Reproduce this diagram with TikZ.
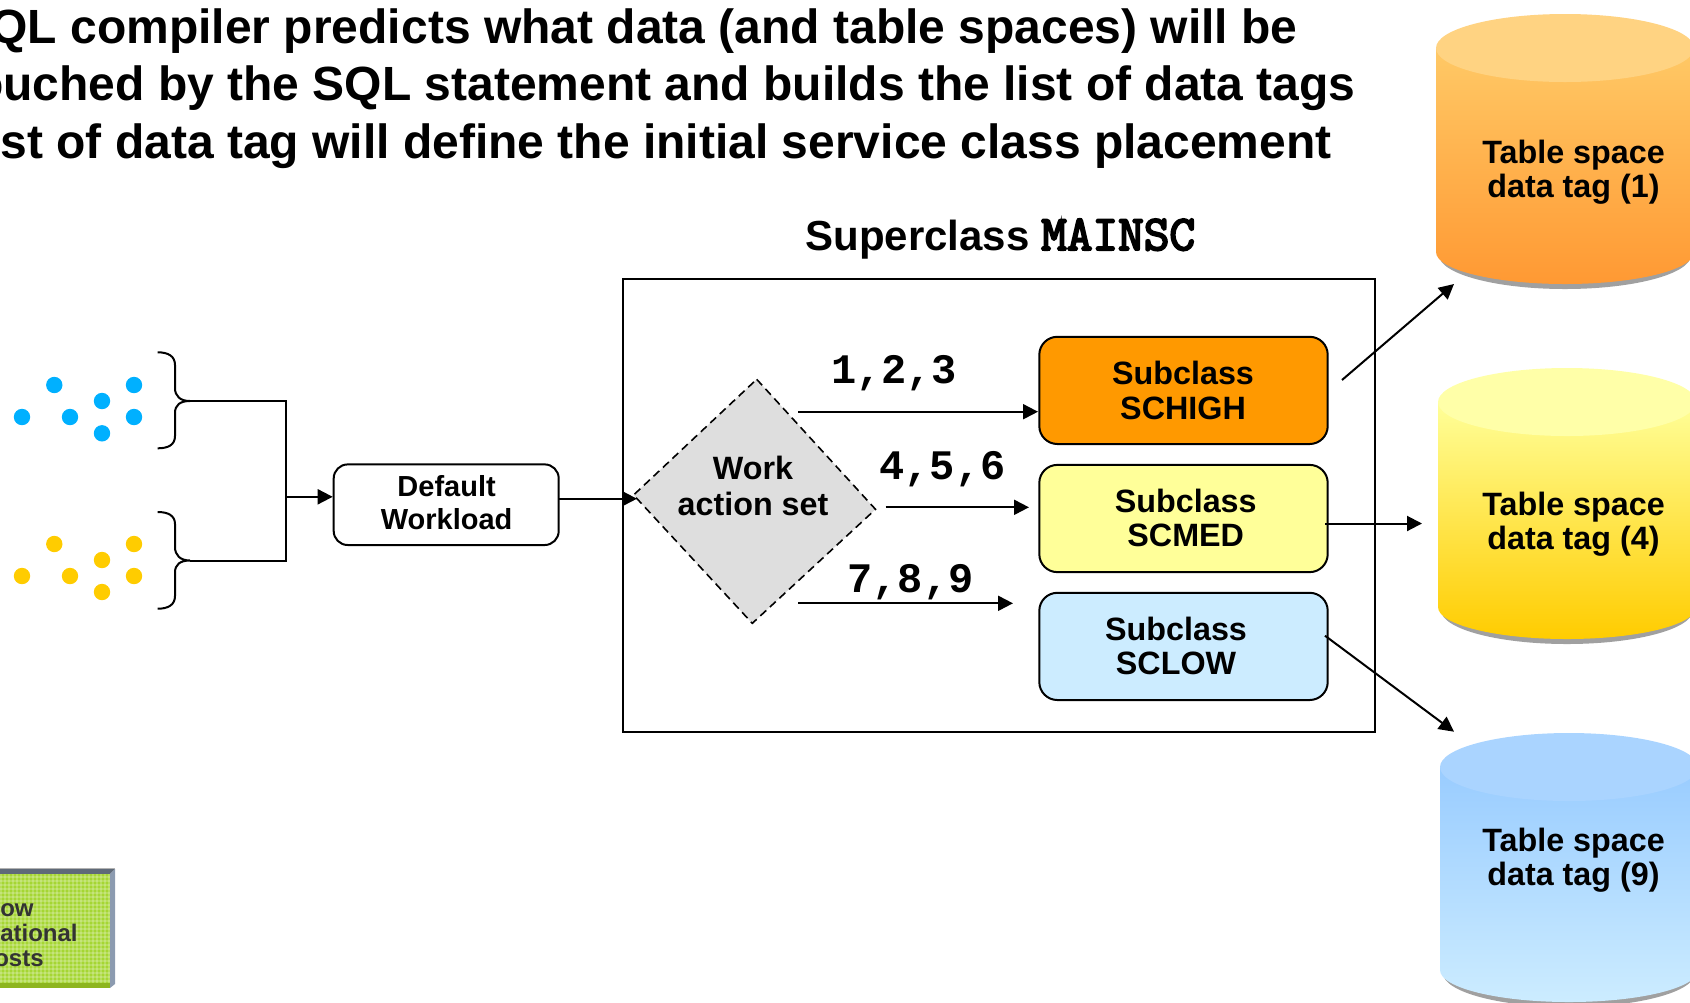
\documentclass[tikz,border=0pt]{standalone}
\usepackage{fontspec}
\setmainfont{Liberation Sans}
\newfontfamily\monof{Liberation Mono}
\newfontfamily\courf[FakeBold=4]{Latin Modern Mono}
\usetikzlibrary{arrows.meta}
\definecolor{dotblue}{HTML}{00B0FF}
\definecolor{dotyellow}{HTML}{FFCC00}
\definecolor{c1t}{HTML}{FFC966}\definecolor{c1b}{HTML}{FF9933}\definecolor{c1e}{HTML}{FFD382}
\definecolor{c2t}{HTML}{FFFF99}\definecolor{c2b}{HTML}{FFCC00}\definecolor{c2e}{HTML}{FFFFA8}
\definecolor{c3t}{HTML}{99CCFF}\definecolor{c3b}{HTML}{CCECFF}\definecolor{c3e}{HTML}{AAD4FF}
\definecolor{shad}{HTML}{A0A0A0}
\definecolor{gtop}{HTML}{5F6A78}\definecolor{gside}{HTML}{8C9BB0}
\definecolor{gfill}{HTML}{A5D633}\definecolor{gband}{HTML}{8DB51E}\definecolor{gtext}{HTML}{333333}
\definecolor{sbh}{HTML}{FF9900}\definecolor{sbm}{HTML}{FFFF99}\definecolor{sbl}{HTML}{CCECFF}
\tikzset{
  x=0.5pt,y=-0.5pt,
  conn/.style={line width=1pt,black},
  arr/.style={conn,-{Triangle[length=7.5pt,width=7.5pt]}},
  sub/.style={draw=black,line width=1pt,rounded corners=9pt,minimum width=144.2pt,minimum height=53.6pt,inner sep=0pt},
  lab/.style={font=\bfseries\fontsize{16.15}{17.2}\selectfont,align=center,anchor=base},
  nums/.style={font=\monof\bfseries\fontsize{21}{24}\selectfont,anchor=base},
  titl/.style={font=\bfseries\fontsize{24}{28}\selectfont,anchor=base east,inner sep=0pt},
  grn/.style={font=\bfseries\fontsize{12}{13}\selectfont,anchor=base east,text=gtext,inner sep=0pt},
  dot/.style={circle,inner sep=0pt,minimum size=8.2pt},
  brace/.style={line width=1pt,black},
}
\newcommand{\cyl}[7]{% left right cx cy bottomy top bottom
  \fill[shad] (#1+3,#5+3) arc[start angle=180,end angle=360,x radius=63pt,y radius=17pt] -- cycle;
  \shade[top color=#6,bottom color=#7] (#1,#4) -- (#1,#5) arc[start angle=180,end angle=360,x radius=64.5pt,y radius=16pt] -- (#2,#4) -- cycle;
}
\begin{document}
\begin{tikzpicture}
\useasboundingbox (0,0) rectangle (1690,1002);
\clip (0,0) rectangle (1690,1002);
% title
\node[titl] (t1) at (1298,43) {QL compiler predicts what data (and table spaces) will be};
\node[titl] (t2) at (1356,100) {ouched by the SQL statement and builds the list of data tags};
\node[titl] (t3) at (1332,158) {st of data tag will define the initial service class placement};
% cylinders
\cyl{1436}{1694}{1565}{48}{252}{c1t}{c1b}
\fill[c1e] (1565,48) ellipse[x radius=64.5pt,y radius=17pt];
\cyl{1438}{1696}{1567}{402}{607}{c2t}{c2b}
\fill[c2e] (1567,402) ellipse[x radius=64.5pt,y radius=17pt];
\cyl{1440}{1698}{1569}{767}{970}{c3t}{c3b}
\fill[c3e] (1569,767) ellipse[x radius=64.5pt,y radius=17pt];
\node[lab] (ts1) at (1573.5,197.5) {Table space\\data tag (1)};
\node[lab] (ts2) at (1573.5,549.5) {Table space\\data tag (4)};
\node[lab] (ts3) at (1573.5,885.5) {Table space\\data tag (9)};
% superclass
\node[font=\bfseries\fontsize{21}{24}\selectfont,anchor=base west,inner sep=0pt] (sc) at (805,250) {Superclass {\courf\fontsize{24.9}{24}\selectfont MAINSC}};
\node[draw=black,line width=1pt,minimum width=375.7pt,minimum height=226.5pt,inner sep=0pt] (frame) at (999,505.2) {};
% subclass
\node[sub,fill=sbh] (hi) at (1183.5,390.4) {};
\node[sub,fill=sbm] (med) at (1183.5,518.5) {};
\node[sub,fill=sbl] (low) at (1183.5,646.4) {};
\node[lab] (hit) at (1183,419) {Subclass\\SCHIGH};
\node[lab] (medt) at (1185.7,546.5) {Subclass\\SCMED};
\node[lab] (lowt) at (1176,674.5) {Subclass\\SCLOW};
% diamond
\coordinate (dt) at (756.7,379.3);
\coordinate (dl) at (633.6,495);
\coordinate (dr) at (875.5,509.3);
\coordinate (db) at (752.3,623.3);
\draw[fill=black!13,line width=0.8pt,dash pattern=on 4pt off 2.5pt] (dt) -- (dr) -- (db) -- (dl) -- cycle;
\node[lab,font=\bfseries\fontsize{16.15}{18}\selectfont] (work) at (753,515) {Work\\action set};
% labels and arrows
\node[nums] (n1) at (894,383.5) {1,2,3};
\node[nums] (n2) at (942.4,479) {4,5,6};
\node[nums] (n3) at (910.4,592) {7,8,9};
\coordinate (a1) at (798,411.7); \coordinate (a1e) at (1038,411.7);
\coordinate (a2) at (885.6,507.3); \coordinate (a2e) at (1029,507.3);
\coordinate (a3) at (798,603.3); \coordinate (a3e) at (1013,603.3);
\draw[arr] (a1) -- (a1e);
\draw[arr] (a2) -- (a2e);
\draw[arr] (a3) -- (a3e);
\coordinate (o1) at (1342,380); \coordinate (o1e) at (1454,284);
\coordinate (o2) at (1325,523.5); \coordinate (o2e) at (1422,523.5);
\coordinate (o3) at (1325,635.7); \coordinate (o3e) at (1454,731.7);
\draw[arr] (o1) -- (o1e);
\draw[arr] (o2) -- (o2e);
\draw[arr] (o3) -- (o3e);
% default workload
\node[draw=black,line width=1pt,rounded corners=7pt,minimum width=112.5pt,minimum height=40.3pt,inner sep=0pt] (dw) at (446.2,504.7) {};
\node[font=\bfseries\fontsize{14.5}{16.5}\selectfont,align=center,anchor=base] (dwt) at (446.6,529.3) {Default\\Workload};
\coordinate (dwo) at (558.7,498.7); \coordinate (dwe) at (637,498.7);
\draw[arr] (dwo) -- (dwe);
% braces
\coordinate (b1) at (190,401); \coordinate (b2) at (190,560.5);
\coordinate (cr1) at (285.8,401); \coordinate (cr2) at (285.8,560.5); \coordinate (crm) at (285.8,496.8);
\draw[brace] (157.7,352.3) .. controls (168,352.3) and (175,356) .. (175,365) -- (175,388) .. controls (175,396) and (180,401) .. (b1) .. controls (180,401) and (175,405) .. (175,413) -- (175,436) .. controls (175,445) and (168,448.3) .. (157.7,448.3);
\draw[brace] (157.7,512) .. controls (168,512) and (175,515.5) .. (175,524) -- (175,547) .. controls (175,555) and (180,560.5) .. (b2) .. controls (180,560.5) and (175,564.5) .. (175,572.5) -- (175,596) .. controls (175,605) and (168,608.7) .. (157.7,608.7);
\draw[conn] (b1) -- (cr1) -- (cr2) -- (b2);
\draw[arr] (crm) -- (dw.west |- crm);
% dots
\foreach \n/\x/\y in {1/54.3/385,2/134/385,3/102/401,4/22/417,5/70/417,6/134/417,7/102/433.3}
  \node[dot,fill=dotblue] (bd\n) at (\x,\y) {};
\foreach \n/\x/\y in {1/54.3/544,2/134/544,3/102/560,4/22/576,5/70/576,6/134/576,7/102/592}
  \node[dot,fill=dotyellow] (yd\n) at (\x,\y) {};
% green box
\fill[gray!60] (0,868) rectangle (115,869);
\fill[gtop] (0,869) -- (115,869) -- (110,874) -- (0,874) -- cycle;
\fill[gside] (115,869) -- (115,984) -- (110,988) -- (110,874) -- cycle;
\fill[gfill] (0,874) rectangle (110,988);
\foreach \k in {0,4,...,108} \fill[white,opacity=.2] (\k,874) rectangle (\k+2,983);
\foreach \k in {876,880,...,980} \fill[white,opacity=.2] (0,\k) rectangle (110,\k+2);
\fill[gband] (0,983) rectangle (110,988);
\node[grn] (g1) at (34,916) {ow};
\node[grn] (g2) at (78,941.7) {ational};
\node[grn] (g3) at (44,966.7) {osts};
\end{tikzpicture}
\end{document}
